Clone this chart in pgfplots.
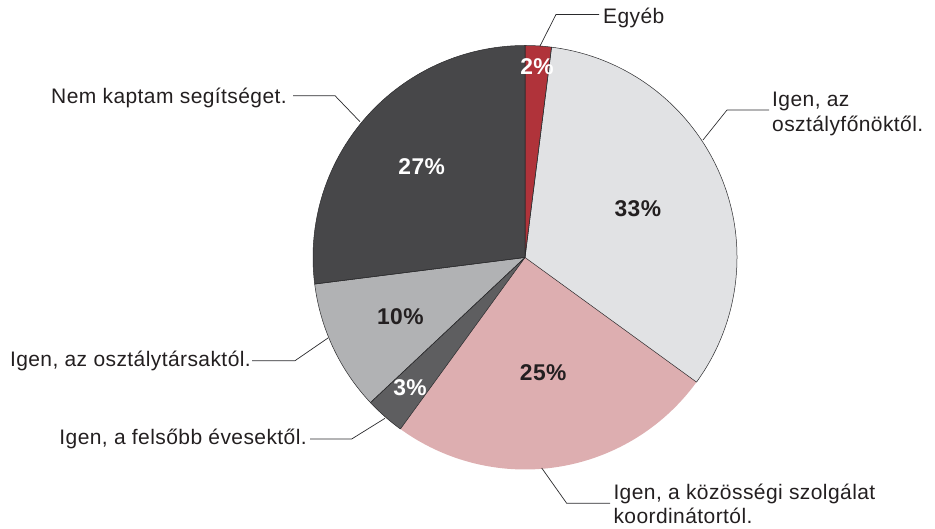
\documentclass[border=0pt]{standalone}
\usepackage{pgfplots}
\pgfplotsset{compat=1.18}
\usepackage{pgfplotstable}
\usepackage{fontspec}
\setmainfont{Liberation Sans}[LetterSpace=2.0]

\definecolor{c0}{HTML}{B0333A}
\definecolor{c1}{HTML}{E1E2E4}
\definecolor{c2}{HTML}{DDAEB0}
\definecolor{c3}{HTML}{5E5E60}
\definecolor{c4}{HTML}{B1B2B4}
\definecolor{c5}{HTML}{474749}
\definecolor{txt}{HTML}{231F20}
\definecolor{edge}{HTML}{2A2A2C}
\colorlet{l0}{white}
\colorlet{l1}{txt}
\colorlet{l2}{txt}
\colorlet{l3}{white}
\colorlet{l4}{txt}
\colorlet{l5}{white}

% share (%) and label distance (fraction of radius)
\pgfplotstableread{
share frac
2  0.90
33 0.58
25 0.55
3  0.82
10 0.65
27 0.65
}\piedata

\tikzset{
  o0/.style={draw=edge}, o1/.style={draw=edge}, o2/.style={draw=none},
  o3/.style={draw=edge}, o4/.style={draw=edge}, o5/.style={draw=edge},
  lbl/.style={font=\fontsize{21}{25}\selectfont, text=txt, inner sep=0pt},
  pct/.style={font=\bfseries\fontsize{22.8}{26}\selectfont, inner sep=0pt},
  lead/.style={draw=edge, line width=0.7pt}
}

\begin{document}
\begin{tikzpicture}
\def\cx{525}\def\cy{271.5}\def\R{212}
\gdef\cum{0}
\pgfplotsforeachungrouped \i in {0,...,5}{%
  \pgfplotstablegetelem{\i}{share}\of\piedata
  \let\v\pgfplotsretval
  \pgfplotstablegetelem{\i}{frac}\of\piedata
  \let\f\pgfplotsretval
  \pgfmathsetmacro\a{90-3.6*\cum}%
  \pgfmathsetmacro\b{90-3.6*(\cum+\v)}%
  \pgfmathsetmacro\m{(\a+\b)/2}%
  \pgfmathsetmacro\lx{\cx+\f*\R*cos(\m)}%
  \pgfmathsetmacro\ly{\cy+\f*\R*sin(\m)}%
  \pgfmathsetmacro\newcum{\cum+\v}%
  \expandafter\xdef\csname sa\i\endcsname{\a}%
  \expandafter\xdef\csname sb\i\endcsname{\b}%
  \expandafter\xdef\csname lx\i\endcsname{\lx}%
  \expandafter\xdef\csname ly\i\endcsname{\ly}%
  \expandafter\xdef\csname pv\i\endcsname{\v}%
  \xdef\cum{\newcum}%
}
\begin{axis}[
  x=1pt, y=1pt,
  xmin=0, xmax=935, ymin=0, ymax=529,
  enlargelimits=false, hide axis, clip=false,
  disabledatascaling,
]
\path (axis cs:0,0) rectangle (axis cs:935,529);
\pgfplotsinvokeforeach{0,...,5}{
  \fill[c#1] (axis cs:\cx,\cy) -- ++(\csname sa#1\endcsname:\R pt)
    arc[start angle=\csname sa#1\endcsname, end angle=\csname sb#1\endcsname, radius=\R pt] -- cycle;
}
\pgfplotsinvokeforeach{0,...,5}{
  \path[o#1, line width=0.5pt, line join=round] (axis cs:\cx,\cy) -- ++(\csname sa#1\endcsname:\R pt)
    arc[start angle=\csname sa#1\endcsname, end angle=\csname sb#1\endcsname, radius=\R pt] -- cycle;
}
\pgfplotsinvokeforeach{0,...,5}{
  \node[pct, text=l#1] at (axis cs:\csname lx#1\endcsname,\csname ly#1\endcsname) {\csname pv#1\endcsname\%};
}
% leader lines
\draw[lead] (axis cs:540,483) -- (axis cs:556,514.5) -- (axis cs:599,514.5);
\draw[lead] (axis cs:703,389) -- (axis cs:727,419) -- (axis cs:769,419);
\draw[lead] (axis cs:293,433.3) -- (axis cs:335,433.3) -- (axis cs:360,407.3);
\draw[lead] (axis cs:252,168.3) -- (axis cs:295,168.3) -- (axis cs:328,191);
\draw[lead] (axis cs:310,90) -- (axis cs:351.7,90) -- (axis cs:385,110.7);
\draw[lead] (axis cs:541.7,61) -- (axis cs:566.7,25.7) -- (axis cs:610,25.7);
% labels
\node[lbl, anchor=base west] at (axis cs:603,505) {Egyéb};
\node[lbl, anchor=base west] at (axis cs:772,422.3) {Igen, az};
\node[lbl, anchor=base west] at (axis cs:772,397.3) {osztályfőnöktől.};
\node[lbl, anchor=base east] at (axis cs:287,425.7) {Nem kaptam segítséget.};
\node[lbl, anchor=base east] at (axis cs:251,162.3) {Igen, az osztálytársaktól.};
\node[lbl, anchor=base east] at (axis cs:307,84) {Igen, a felsőbb évesektől.};
\node[lbl, anchor=base west] at (axis cs:613.3,29) {Igen, a közösségi szolgálat};
\node[lbl, anchor=base west] at (axis cs:613.3,5) {koordinátortól.};
\end{axis}
\end{tikzpicture}
\end{document}
